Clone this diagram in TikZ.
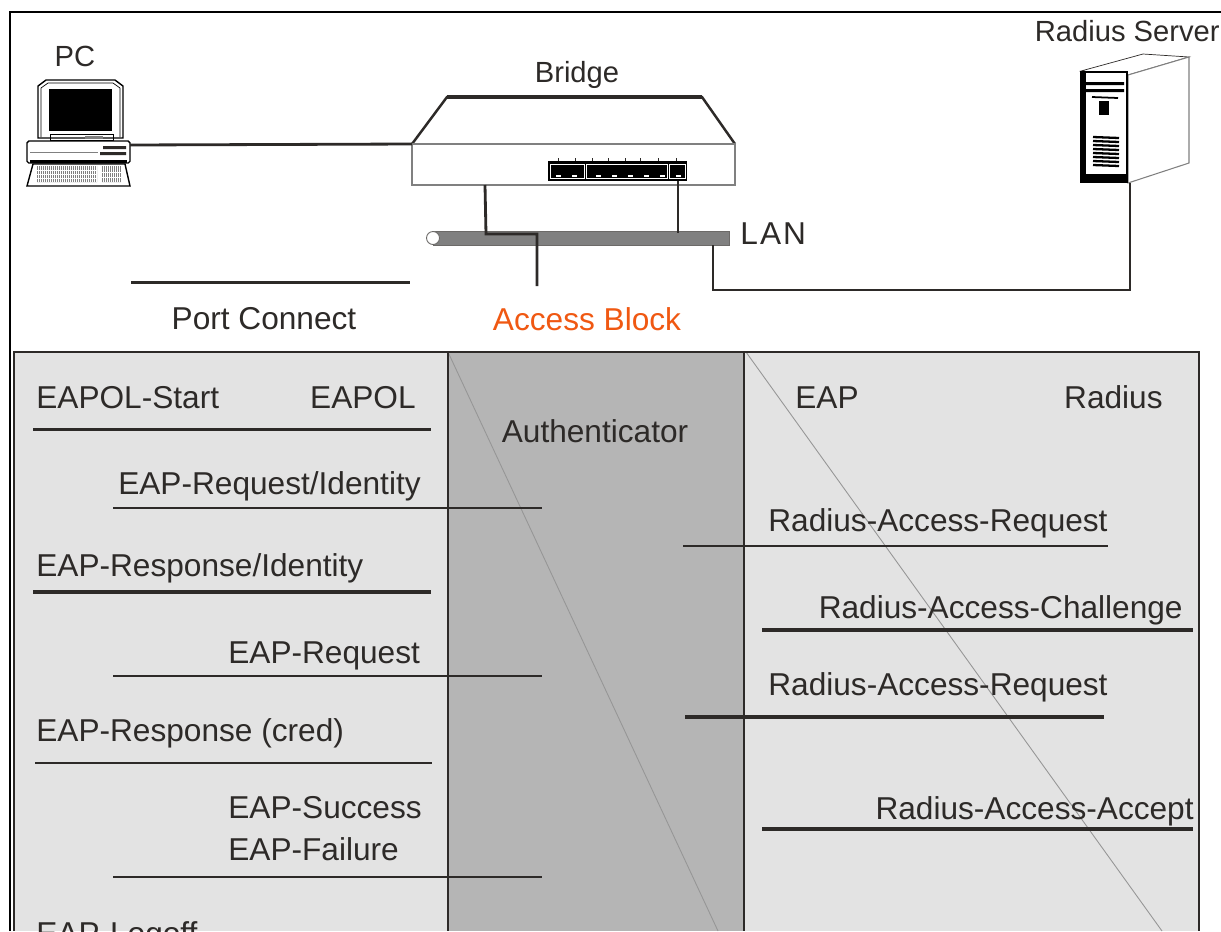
\documentclass[tikz,border=0pt]{standalone}
\usepackage{fontspec}
\setmainfont{Liberation Sans}
\usetikzlibrary{positioning}
\definecolor{ink}{RGB}{45, 42, 40}
\definecolor{pale}{RGB}{227, 227, 227}
\definecolor{mid}{RGB}{181, 181, 181}
\definecolor{bus}{RGB}{128, 128, 128}
\definecolor{block}{RGB}{240, 88, 18}
\definecolor{slant}{RGB}{150, 150, 150}

\tikzset{
  lbl/.style={inner sep=0, text=ink, font=\fontsize{18}{20}\selectfont},
  devlbl/.style={lbl, font=\fontsize{16.6}{20}\selectfont},
  cable/.style={draw=ink, line width=1.6pt},
}

\begin{document}
\begin{tikzpicture}[x=0.02cm, y=-0.02cm]
  \useasboundingbox (0,0) rectangle (1221,931);
  \fill[white] (0,0) rectangle (1221,931);

  % outer frame, open at the right and bottom
  \draw[black, line width=1.2pt] (10,931) -- (10,12) -- (1221,12);

  % PC
  \node[devlbl, anchor=base] (pclbl) at (75,66) {PC};
  \filldraw[fill=white, draw=black, line width=0.8pt]
    (38,138) -- (38,86) -- (46,80) -- (115,80) -- (123,86) -- (123,138) -- cycle;
  \draw[black, line width=0.4pt] (41,137) -- (41,88) -- (48,83) -- (113,83) -- (120,88) -- (120,137);
  \fill[black] (49,89) rectangle (112,131);
  \draw[black, line width=0.4pt] (50,134) rectangle (113,140);
  \fill[gray] (85,136) rectangle (103,139);
  \filldraw[fill=white, draw=black, line width=0.8pt, rounded corners=1pt] (27,141) rectangle (130,163);
  \draw[gray, line width=0.5pt] (30,152) -- (98,152);
  \fill[ink] (103,146) rectangle (126,149) (100,152) rectangle (126,155);
  \fill[black] (30,160) rectangle (127,163);
  \filldraw[fill=white, draw=black, line width=0.8pt] (33,164) -- (125,164) -- (130,186) -- (27,186) -- cycle;
  \fill[gray] (37,166) rectangle (97,182) (102,166) rectangle (121,182);
  \foreach \k in {38,40,...,96}
    \draw[white, line width=0.3pt] (\k,166) -- (\k,182);
  \foreach \k in {103,105,...,121}
    \draw[white, line width=0.3pt] (\k,166) -- (\k,182);
  \draw[white, line width=0.5pt] (37,170) -- (97,170) (37,174) -- (97,174) (37,178) -- (97,178)
    (102,172) -- (121,172) (102,177) -- (121,177);
  \coordinate (pcport) at (130,145);

  % bridge
  \node[devlbl, anchor=base] (brglbl) at (577,82) {Bridge};
  \filldraw[fill=white, draw=ink, line width=1.4pt] (412,144) -- (447,97) -- (702,97) -- (735,144);
  \draw[ink, line width=2.2pt] (447,97) -- (702,97);
  \draw[gray, line width=0.6pt] (412,144) rectangle (735,185);
  \fill[black] (548,161) rectangle (687,181);
  \draw[white, line width=0.4pt] (550,164) rectangle (584,178) (586,164) rectangle (667,178) (669,164) rectangle (685,178);
  \foreach \p in {556,572,596,612,628,644,660,676}
    \draw[white, line width=0.6pt] (\p,176) -- ++(5,0);
  \foreach \p in {558,575,592,608,625,640,658,676}
    \draw[ink, line width=0.5pt] (\p,158) -- ++(0,3);
  \coordinate (brgw) at (412,144);
  \coordinate (brgdrop) at (485,185);
  \coordinate (brgport) at (678,181);

  % LAN segment
  \filldraw[fill=bus, draw=ink!70, line width=0.5pt] (433,231) rectangle (729,245);
  \filldraw[fill=white, draw=ink!70, line width=0.5pt] (433,238) circle (6.5);
  \node[lbl, anchor=base west] (lanlbl) at (740,244) {L\kern1.2pt A\kern1.2pt N};
  \coordinate (lanin) at (678,233);
  \coordinate (lanout) at (713,245);

  % radius server
  \node[devlbl, anchor=base east] (srvlbl) at (1220,41) {Radius Server};
  \filldraw[fill=white, draw=ink, line width=0.4pt] (1081,71) -- (1143,54) -- (1189,57) -- (1128,75) -- cycle;
  \filldraw[fill=white, draw=gray, line width=0.6pt] (1128,75) -- (1189,57) -- (1189,163) -- (1128,183) -- cycle;
  \filldraw[fill=white, draw=black, line width=1.4pt] (1081,72) rectangle (1127,182);
  \fill[black] (1081,72) rectangle (1086,182);
  \fill[black] (1085,82) rectangle (1124,85) (1085,89) rectangle (1124,92);
  \draw[black, line width=1pt] (1092,97) -- (1118,98);
  \fill[black] (1099,101) rectangle (1109,115);
  \foreach \v in {137,141,...,165}
    \draw[black, line width=1.3pt] (1093,\v) -- (1119,\v+1);
  \fill[black] (1081,174) rectangle (1127,182);
  \coordinate (srvport) at (1130,183);

  % cabling
  \draw[cable] (pcport) -- (brgw);
  \coordinate (blk) at (537,286);
  \draw[cable] (brgdrop) -- (486,234) -- (537,234) -- (blk);
  \draw[ink, line width=0.8pt] (brgport) -- (lanin);
  \draw[ink, line width=1.2pt] (lanout) |- (1130,290) -- (srvport);

  % port states
  \draw[ink, line width=1.7pt] (131,282) -- (410,282);
  \node[lbl, anchor=base] (portcon) at (264,329) {Port Connect};
  \node[lbl, anchor=base, text=block] (acblk) at (587,330) {Access Block};

  % exchange panels
  \fill[pale] (14,352) rectangle (448,931);
  \fill[mid] (448,352) rectangle (744,931);
  \fill[pale] (744,352) rectangle (1199,931);
  \draw[slant, line width=0.5pt] (448,352) -- (718,931);
  \draw[slant, line width=0.5pt] (746,352) -- (1162,931);
  \draw[ink, line width=1.1pt] (14,931) -- (14,352) (1199,352) -- (1199,931);
  \draw[ink, line width=1.1pt] (448,352) -- (448,931) (744,352) -- (744,931);
  \draw[ink, line width=1.6pt] (13,352) -- (1200,352);

  \node[lbl, anchor=base west] (start) at (36,408) {EAPOL-Start};
  \node[lbl, anchor=base east] (eapol) at (416,408) {EAPOL};
  \node[lbl, anchor=base east] (reqid) at (421,494) {EAP-Request/Identity};
  \node[lbl, anchor=base west] (rspid) at (36,576) {EAP-Response/Identity};
  \node[lbl, anchor=base west] (req) at (228,663) {EAP-Request};
  \node[lbl, anchor=base west] (cred) at (36,741) {EAP-Response (cred)};
  \node[lbl, anchor=base west] (succ) at (228,818) {EAP-Success};
  \node[lbl, anchor=base west] (fail) at (228,860) {EAP-Failure};
  \node[lbl, anchor=base west] (logoff) at (36,944) {EAP-Logoff};
  \node[lbl, anchor=base] (auth) at (595,442) {Authenticator};
  \node[lbl, anchor=base west] (eap) at (795,408) {EAP};
  \node[lbl, anchor=base east] (radius) at (1163,408) {Radius};
  \node[lbl, anchor=base west] (rreq1) at (768,531) {Radius-Access-Request};
  \node[lbl, anchor=base east] (chall) at (1183,618) {Radius-Access-Challenge};
  \node[lbl, anchor=base west] (rreq2) at (768,695) {Radius-Access-Request};
  \node[lbl, anchor=base east] (accept) at (1194,819) {Radius-Access-Accept};

  % message lines: from/to/row/width
  \foreach \a/\b/\y/\w in {33/431/429/1.7, 113/542/508/1.4, 33/431/592/2.3, 113/542/676/1.4,
      35/432/763/1.4, 113/542/877/1.1, 683/1108/546/1.4, 762/1193/630/2.3,
      685/1104/717/2, 762/1193/829/2.3}
    \draw[ink, line width=\w pt] (\a,\y) -- (\b,\y);

\end{tikzpicture}
\end{document}
